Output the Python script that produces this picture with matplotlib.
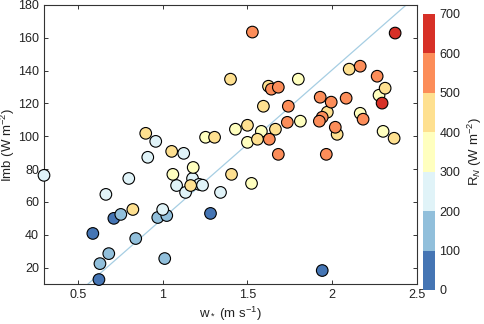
import matplotlib
matplotlib.use("Agg")
import matplotlib.pyplot as plt
from matplotlib.colors import ListedColormap, BoundaryNorm

plt.rcParams["font.family"] = ["Liberation Sans", "DejaVu Sans"]
plt.rcParams["mathtext.fontset"] = "custom"
plt.rcParams["mathtext.rm"] = "Liberation Sans"
plt.rcParams["mathtext.it"] = "Liberation Sans:italic"

# w* (m s-1), Imb (W m-2), RN (W m-2)
w_star = [0.712, 1.282, 0.588, 0.624, 1.941,
          0.753, 0.971, 1.024, 0.841, 0.682, 0.630, 1.012,
          0.300, 0.912, 1.124, 1.176, 0.800, 1.082, 1.215, 1.235, 1.135, 1.341, 0.665, 1.000, 0.959,
          1.180, 1.060, 1.429, 1.253, 1.524, 1.582, 1.500, 1.800, 2.276, 2.165, 1.812, 2.300,
          1.053, 1.165, 1.406, 0.824, 1.400, 0.900, 1.306, 1.624, 1.594, 1.500, 1.665, 1.559,
          2.100, 2.312, 1.971, 2.029, 2.365,
          1.529, 1.641, 1.682, 1.741, 1.735, 1.629, 1.682, 2.165, 2.265, 1.929, 2.082, 1.994,
          1.941, 1.924, 2.182, 2.018, 1.965,
          2.371, 2.294]
imb = [50.0, 53.0, 40.8, 12.7, 18.2,
       52.4, 50.5, 51.7, 37.7, 28.5, 22.4, 25.5,
       76.2, 87.2, 89.6, 74.3, 74.3, 70.0, 70.7, 70.2, 65.8, 65.8, 64.6, 55.4, 96.9,
       81.0, 76.8, 104.3, 99.4, 71.3, 103.0, 96.3, 134.8, 125.0, 114.0, 109.2, 103.0,
       90.8, 70.0, 76.8, 55.4, 134.8, 101.8, 99.4, 130.5, 118.3, 106.7, 104.3, 98.2,
       140.9, 129.3, 114.7, 101.2, 98.8,
       163.5, 128.7, 129.9, 118.3, 108.5, 98.2, 89.0, 142.7, 136.6, 123.8, 123.2, 120.8,
       111.6, 109.2, 110.4, 105.5, 89.0,
       162.9, 120.2]
rn = [50, 60, 40, 70, 55,
      150, 140, 160, 130, 150, 170, 145,
      250, 260, 240, 250, 255, 245, 250, 260, 240, 250, 255, 265, 250,
      350, 340, 360, 350, 345, 355, 350, 360, 340, 350, 355, 345,
      450, 440, 460, 430, 450, 445, 455, 460, 450, 440, 455, 450,
      460, 450, 445, 455, 450,
      550, 560, 540, 550, 555, 545, 550, 560, 555, 545, 550, 560,
      550, 545, 555, 550, 545,
      650, 640]

# fitted line
fit_x = [0.55, 2.45]
slope = 90.6
intercept = -40.7

bin_edges = [0, 100, 200, 300, 400, 500, 600, 700]
bin_colors = ["#4575b4", "#91bfdb", "#e0f3f8", "#ffffbf", "#fee090", "#fc8d59", "#d73027"]

cmap = ListedColormap(bin_colors)
norm = BoundaryNorm(bin_edges, cmap.N)

fig = plt.figure(figsize=(4.84, 3.24), dpi=100)
ax = fig.add_axes([0.0909, 0.1235, 0.7707, 0.8611])

fit_y = [slope * x + intercept for x in fit_x]
ax.plot(fit_x, fit_y, color="#a6cee3", linewidth=0.9, zorder=1)

sc = ax.scatter(w_star, imb, c=rn, cmap=cmap, norm=norm, s=70,
                edgecolors="black", linewidths=0.8, zorder=3, clip_on=False)

ax.set_xlim(0.3, 2.5)
ax.set_ylim(10, 180)
ax.set_xticks([0.5, 1, 1.5, 2, 2.5])
ax.set_xticklabels(["0.5", "1", "1.5", "2", "2.5"])
ax.set_yticks(range(20, 181, 20))
ax.tick_params(direction="in", top=True, right=True, labelsize=9,
               length=3, width=0.7, colors="#333333", labelcolor="#222222")
for sp in ax.spines.values():
    sp.set_linewidth(0.8)
    sp.set_color("#333333")

ax.set_xlabel(r"w$_*$ (m s$^{-1}$)", fontsize=9.5, color="#222222", labelpad=3)
ax.set_ylabel(r"Imb (W m$^{-2}$)", fontsize=9.5, color="#222222")
ax.yaxis.set_label_coords(-0.072, 0.5)

cax = fig.add_axes([0.874, 0.105, 0.025, 0.852])
cb = fig.colorbar(sc, cax=cax, ticks=bin_edges)
cb.outline.set_visible(False)
cb.ax.tick_params(length=0, labelsize=9, labelcolor="#222222", pad=3)
cb.set_label(r"R$_N$ (W m$^{-2}$)", fontsize=9.5, color="#222222", labelpad=4)

fig.savefig("out.png", dpi=100)
